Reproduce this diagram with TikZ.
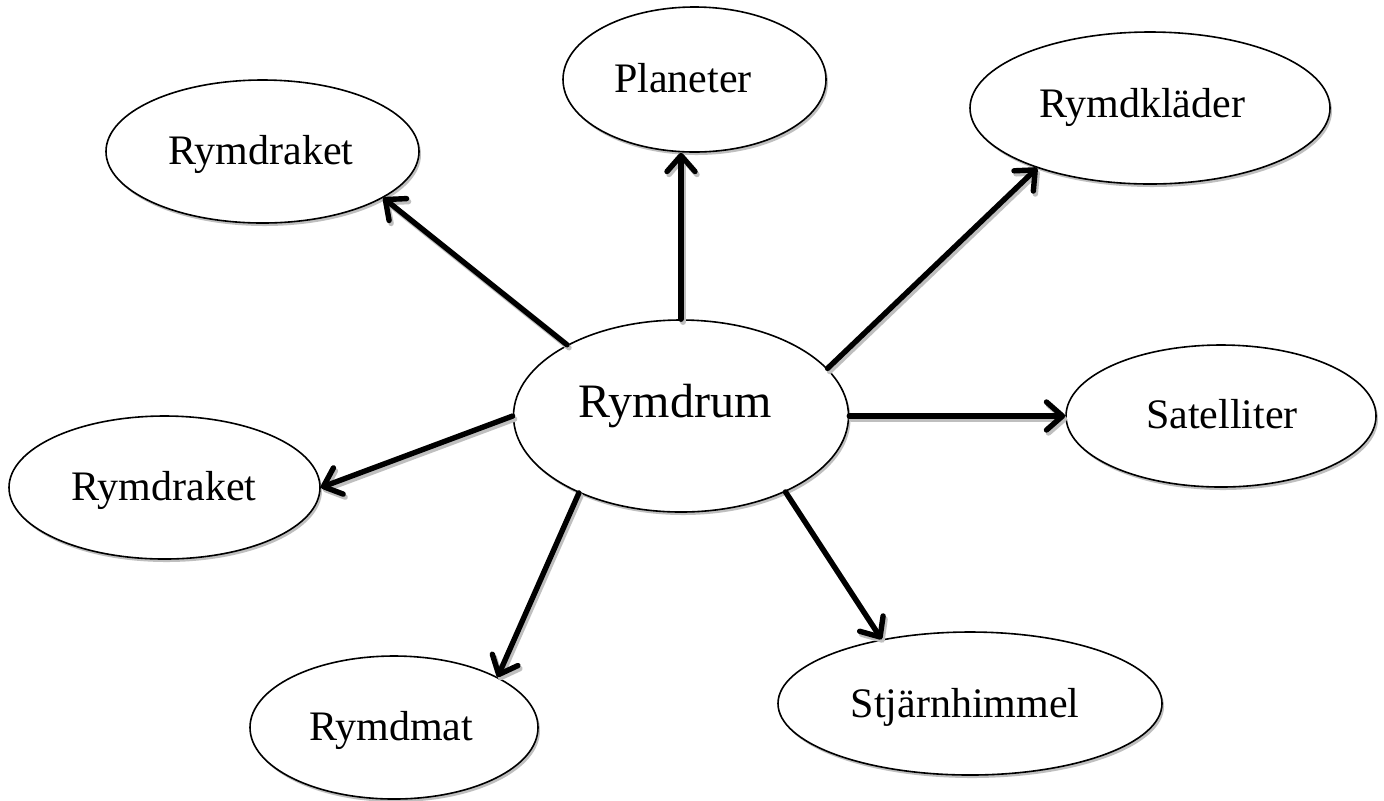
\documentclass[tikz,border=0pt]{standalone}
\usepackage{fontspec}
\setmainfont{Liberation Serif}
\usetikzlibrary{shapes.geometric,arrows.meta,shadows}
\begin{document}
\begin{tikzpicture}[x=0.5pt,y=-0.5pt,
  bubble/.style={ellipse,draw=black,line width=0.8pt,fill=white,inner sep=0pt,
    drop shadow={shadow xshift=1pt,shadow yshift=-1.5pt,fill=black!25,opacity=1}},
  lbl/.style={anchor=base,inner sep=0pt,font=\fontsize{21pt}{25pt}\selectfont},
  biglbl/.style={lbl,font=\fontsize{24pt}{29pt}\selectfont},
  link/.style={line width=2.7pt,line cap=round,-{Straight Barb[length=8pt,width=14pt,round]}},
  linkshadow/.style={link,draw=black!25}]
\useasboundingbox[fill=white] (0,0) rectangle (1384,800);
% ellipses
\node[bubble,minimum width=335pt/2,minimum height=192pt/2] (rum) at (681,416) {};
\node[bubble,minimum width=263pt/2,minimum height=145pt/2] (pl) at (694.5,79.5) {};
\node[bubble,minimum width=360pt/2,minimum height=152pt/2] (kl) at (1150,108) {};
\node[bubble,minimum width=313pt/2,minimum height=143pt/2] (rk1) at (262.5,151.5) {};
\node[bubble,minimum width=311pt/2,minimum height=143pt/2] (rk2) at (164.5,487.5) {};
\node[bubble,minimum width=310pt/2,minimum height=142pt/2] (sat) at (1221,416) {};
\node[bubble,minimum width=288pt/2,minimum height=143pt/2] (mat) at (394,727.5) {};
\node[bubble,minimum width=384pt/2,minimum height=143pt/2] (stj) at (970,703.5) {};
% labels
\node[biglbl] (trum) at (675,417) {Rymdrum};
\node[lbl] (tpl) at (683,92) {Planeter};
\node[lbl] (tkl) at (1142,117) {Rymdkläder};
\node[lbl] (trk1) at (261,164) {Rymdraket};
\node[lbl] (trk2) at (164,500) {Rymdraket};
\node[lbl] (tsat) at (1222,428) {Satelliter};
\node[lbl] (tmat) at (391,740) {Rymdmat};
\node[lbl] (tstj) at (965,717) {Stjärnhimmel};
% connector shadows
\begin{scope}[transform canvas={xshift=1pt,yshift=-1.5pt}]
\draw[linkshadow] (rum.north) -- (rum.north |- pl.south);
\draw[linkshadow] (rum.148.7) -- (rk1.-21.8);
\draw[linkshadow] (rum.18.4) -- (kl.-152.2);
\draw[linkshadow] (rum.east) -- (rum.east -| sat.west);
\draw[linkshadow] (rum.west) -- (rk2.east);
\draw[linkshadow] (rum.217) -- (mat.26.8);
\draw[linkshadow] (rum.-36.3) -- (stj.144);
\end{scope}
% connectors
\draw[link] (rum.north) -- (rum.north |- pl.south);
\draw[link] (rum.148.7) -- (rk1.-21.8);
\draw[link] (rum.18.4) -- (kl.-152.2);
\draw[link] (rum.east) -- (rum.east -| sat.west);
\draw[link] (rum.west) -- (rk2.east);
\draw[link] (rum.217) -- (mat.26.8);
\draw[link] (rum.-36.3) -- (stj.144);
\end{tikzpicture}
\end{document}
